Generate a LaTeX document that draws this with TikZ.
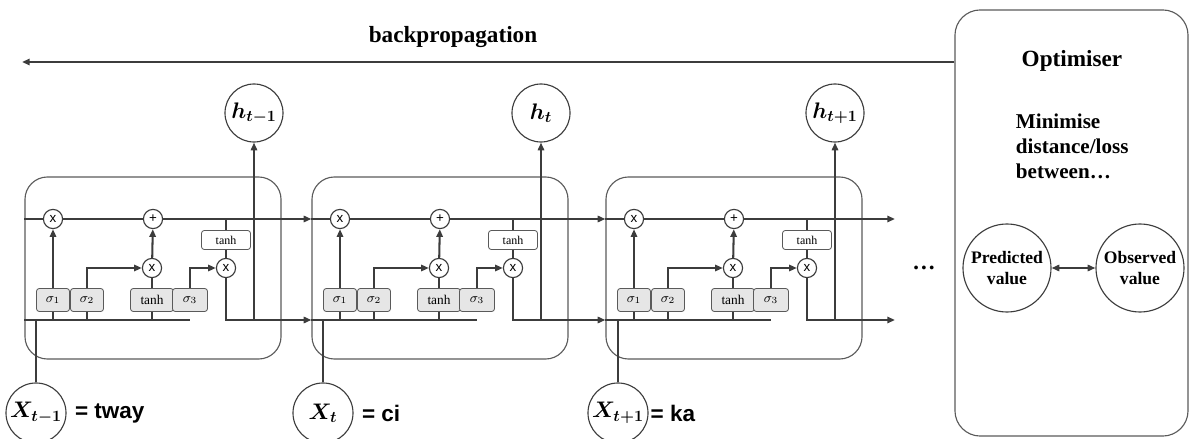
\documentclass[tikz,border=0pt]{standalone}
\usepackage{fix-cm}
\usepackage{amsmath}
\usepackage{fontspec}
\setmainfont{Liberation Serif}
\setsansfont{Liberation Sans}
\usetikzlibrary{arrows.meta,positioning}
\definecolor{flowgray}{HTML}{3C3C3C}
\definecolor{boxgray}{HTML}{5A5A5A}
\definecolor{gatefill}{HTML}{E6E6E6}
\begin{document}
\begin{tikzpicture}[x=0.025cm, y=-0.025cm,
  >={Triangle[length=5.5pt,width=4.5pt]},
  flow/.style={draw=flowgray, line width=1.45pt},
  cellbox/.style={draw=boxgray, line width=0.8pt, rounded corners=16pt, minimum width=6.4cm, minimum height=4.55cm},
  mult/.style={circle, draw=flowgray, line width=0.8pt, fill=white, minimum size=0.48cm, inner sep=0pt, font=\sffamily\fontsize{9.5}{9.5}\selectfont},
  gate/.style={draw=boxgray, line width=0.6pt, fill=gatefill, rounded corners=2pt, minimum height=0.575cm, inner sep=1pt, font=\fontsize{9.5}{9.5}\selectfont},
  tanhtop/.style={gate, fill=white, minimum width=1.225cm, minimum height=0.475cm, font=\fontsize{8.5}{8.5}\selectfont},
  state/.style={circle, draw=flowgray, line width=0.8pt, minimum size=1.45cm, inner sep=0pt, font=\fontsize{16}{19}\selectfont},
  eqlab/.style={font=\sffamily\bfseries\fontsize{16}{19}\selectfont},
  title/.style={font=\bfseries\fontsize{16.5}{20}\selectfont},
  note/.style={font=\bfseries\fontsize{15}{17.7}\selectfont, align=left},
  valcirc/.style={circle, draw=flowgray, line width=0.8pt, minimum size=2.2cm, inner sep=0pt, align=center, font=\bfseries\fontsize{12.5}{14.9}\selectfont},
  optbox/.style={draw=boxgray, line width=0.8pt, rounded corners=18pt, minimum width=5.825cm, minimum height=10.65cm}]
\useasboundingbox (0,0) rectangle (1192,439);

% Cell boxes
\node[cellbox] (cell1) at (153,268) {};
\node[cellbox] (cell2) at (440,268) {};
\node[cellbox] (cell3) at (734,268) {};

% Cell 1
\node[mult] (fx1) at (53,219) {x};
\node[mult] (px1) at (153,219) {+};
\node[tanhtop] (tt1) at (226,240) {tanh};
\node[mult] (ox1) at (226,268) {x};
\node[mult] (mx1) at (152,268) {x};
\node[gate, minimum width=0.825cm] (sa1) at (53,300) {$\sigma_1$};
\node[gate, minimum width=0.825cm] (sb1) at (87,300) {$\sigma_2$};
\node[gate, minimum width=1.075cm] (tg1) at (152,300) {tanh};
\node[gate, minimum width=0.875cm] (sc1) at (190,300) {$\sigma_3$};
\coordinate (bot1) at (190,320);
\node[state] (h1) at (254,113) {$\boldsymbol{h_{t-1}}$};
\node[state, minimum size=1.5cm] (x1) at (36,413) {$\boldsymbol{X_{t-1}}$};
\node[eqlab, right=2.5pt of x1] (eq1) {= tway};

\draw[flow] (cell1.west |- fx1) -- (fx1);
\draw[flow] (fx1) -- (px1);
\draw[flow,->] (px1) -- (cell2.west |- px1);
\draw[flow,->] (sa1) -- (fx1);
\draw[flow,->] (sb1) |- (mx1);
\draw[flow] (tg1) -- (mx1);
\draw[flow,->] (mx1) -- (px1);
\draw[flow] (tt1 |- px1) -- (tt1);
\draw[flow] (tt1) -- (ox1);
\draw[flow,->] (sc1) |- (ox1);
\draw[flow] (cell1.west |- bot1) -- (bot1);
\draw[flow] (sa1) -- (sa1 |- bot1);
\draw[flow] (sb1) -- (sb1 |- bot1);
\draw[flow] (tg1) -- (tg1 |- bot1);
\draw[flow] (x1) -- (x1 |- bot1);
\draw[flow,->] (ox1) |- (cell2.west |- bot1);
\draw[flow,->] (h1 |- bot1) -- (h1);

% Cell 2
\node[mult] (fx2) at (340,219) {x};
\node[mult] (px2) at (440,219) {+};
\node[tanhtop] (tt2) at (513,240) {tanh};
\node[mult] (ox2) at (513,268) {x};
\node[mult] (mx2) at (439,268) {x};
\node[gate, minimum width=0.825cm] (sa2) at (340,300) {$\sigma_1$};
\node[gate, minimum width=0.825cm] (sb2) at (374,300) {$\sigma_2$};
\node[gate, minimum width=1.075cm] (tg2) at (439,300) {tanh};
\node[gate, minimum width=0.875cm] (sc2) at (477,300) {$\sigma_3$};
\coordinate (bot2) at (477,320);
\node[state] (h2) at (541,113) {$\boldsymbol{h_{t}}$};
\node[state, minimum size=1.5cm] (x2) at (323,413) {$\boldsymbol{X_{t}}$};
\node[eqlab, right=2.5pt of x2] (eq2) {= ci};

\draw[flow] (cell2.west |- fx2) -- (fx2);
\draw[flow] (fx2) -- (px2);
\draw[flow,->] (px2) -- (cell3.west |- px2);
\draw[flow,->] (sa2) -- (fx2);
\draw[flow,->] (sb2) |- (mx2);
\draw[flow] (tg2) -- (mx2);
\draw[flow,->] (mx2) -- (px2);
\draw[flow] (tt2 |- px2) -- (tt2);
\draw[flow] (tt2) -- (ox2);
\draw[flow,->] (sc2) |- (ox2);
\draw[flow] (cell2.west |- bot2) -- (bot2);
\draw[flow] (sa2) -- (sa2 |- bot2);
\draw[flow] (sb2) -- (sb2 |- bot2);
\draw[flow] (tg2) -- (tg2 |- bot2);
\draw[flow] (x2) -- (x2 |- bot2);
\draw[flow,->] (ox2) |- (cell3.west |- bot2);
\draw[flow,->] (h2 |- bot2) -- (h2);

% Cell 3
\node[mult] (fx3) at (634,219) {x};
\node[mult] (px3) at (734,219) {+};
\node[tanhtop] (tt3) at (807,240) {tanh};
\node[mult] (ox3) at (807,268) {x};
\node[mult] (mx3) at (733,268) {x};
\node[gate, minimum width=0.825cm] (sa3) at (634,300) {$\sigma_1$};
\node[gate, minimum width=0.825cm] (sb3) at (668,300) {$\sigma_2$};
\node[gate, minimum width=1.075cm] (tg3) at (733,300) {tanh};
\node[gate, minimum width=0.875cm] (sc3) at (771,300) {$\sigma_3$};
\coordinate (bot3) at (771,320);
\coordinate (out3) at (895,320);
\node[state] (h3) at (835,113) {$\boldsymbol{h_{t+1}}$};
\node[state, minimum size=1.5cm] (x3) at (618,413) {$\boldsymbol{X_{t+1}}$};
\node[eqlab, right=-2pt of x3] (eq3) {= ka};

\draw[flow] (cell3.west |- fx3) -- (fx3);
\draw[flow] (fx3) -- (px3);
\draw[flow,->] (px3) -- (out3 |- px3);
\draw[flow,->] (sa3) -- (fx3);
\draw[flow,->] (sb3) |- (mx3);
\draw[flow] (tg3) -- (mx3);
\draw[flow,->] (mx3) -- (px3);
\draw[flow] (tt3 |- px3) -- (tt3);
\draw[flow] (tt3) -- (ox3);
\draw[flow,->] (sc3) |- (ox3);
\draw[flow] (cell3.west |- bot3) -- (bot3);
\draw[flow] (sa3) -- (sa3 |- bot3);
\draw[flow] (sb3) -- (sb3 |- bot3);
\draw[flow] (tg3) -- (tg3 |- bot3);
\draw[flow] (x3) -- (x3 |- bot3);
\draw[flow,->] (ox3) |- (out3);
\draw[flow,->] (h3 |- bot3) -- (h3);

\node[title] (dots) at (924,268) {…};

% Optimiser
\node[optbox] (opt) at (1071.5,223) {};
\node[title] (optlab) at (1072,61) {Optimiser};
\node[note, anchor=west] (minl) at (1011,146) {Minimise\\distance/loss\\between…};
\node[valcirc] (pred) at (1007,268) {Predicted\\value};
\node[valcirc] (obs) at (1140,268) {Observed\\value};
\draw[flow,<->] (pred) -- (obs);

% backpropagation
\coordinate (bpend) at (22,62);
\draw[flow,->] (opt.west |- bpend) -- (bpend);
\node[title] (bp) at (453,37) {backpropagation};
\end{tikzpicture}
\end{document}
